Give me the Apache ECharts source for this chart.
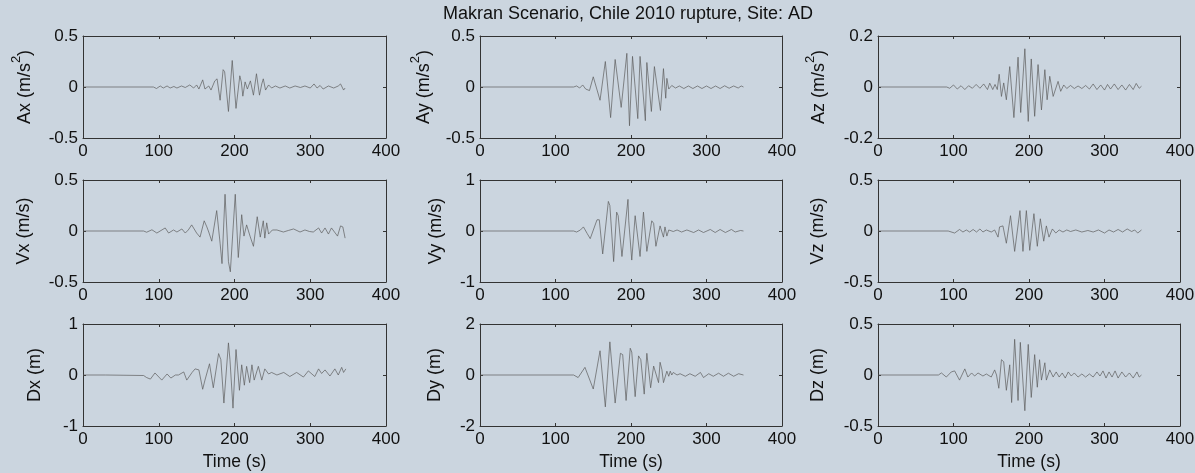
<!DOCTYPE html>
<html>
<head>
<meta charset="utf-8">
<script src="https://cdn.jsdelivr.net/npm/echarts@6/dist/echarts.min.js"></script>
<style>
  html, body { margin: 0; padding: 0; background: #cbd5df; }
  #chart { width: 1195px; height: 473px; }
</style>
</head>
<body>
<div id="chart"></div>
<script>
// Three-component ground motion at site AD: acceleration, velocity, displacement.
// Each trace is a list of [time (s), value] samples.
const ax = [[0,0],[93,0],[97,-0.015],[102,0.01],[106,-0.01],[111,0.01],[115,-0.01],[120,0.005],[124,-0.01],[130,0.01],[135,-0.005],[141,0.02],[146,-0.01],[150,0.02],[153,-0.02],[158,0.07],[161,-0.02],[166,0.01],[169,-0.03],[174,0.06],[177,0.08],[181,-0.13],[185,0.17],[187,0.15],[192,-0.24],[197,0.26],[202,-0.21],[207,0.11],[209,0.05],[211,-0.09],[214,0.05],[217,-0.02],[221,0.06],[225,-0.08],[229,0.13],[233,-0.08],[236,0.03],[238,0.08],[241,-0.03],[245,0.02],[249,-0.01],[254,0.01],[260,-0.01],[267,0.01],[273,-0.01],[280,0.01],[287,-0.005],[293,0.01],[300,-0.01],[305,0.03],[309,-0.01],[313,0.015],[317,-0.02],[324,0.01],[331,-0.01],[337,0.01],[340,0.03],[344,-0.03],[346,-0.01]];
const ay = [[0,0],[124,0],[128,0.01],[132,-0.01],[136,0.02],[140,-0.02],[145,-0.035],[150,0.1],[159,-0.13],[166,0.25],[173,-0.3],[179,0.27],[187,-0.2],[194.5,0.33],[198,-0.38],[202,0.3],[209,-0.31],[212,0.3],[219,-0.33],[221,0.24],[227,-0.24],[231,0.2],[239,-0.23],[243,0.18],[246,-0.11],[247.5,0.085],[250,-0.02],[254,0.015],[259,-0.01],[264,0.01],[270,-0.015],[276,0.01],[282,-0.015],[288,0.01],[294,-0.015],[300,0.01],[306,-0.015],[312,0.01],[318,-0.015],[324,0.012],[330,-0.012],[336,0.01],[342,-0.01],[346,0.01],[349,0]];
const az = [[0,0],[91,0],[95,-0.005],[100,0.008],[105,-0.008],[110,0.005],[115,-0.01],[120,0.005],[125,-0.005],[130,0.01],[135,-0.005],[140,0.012],[145,-0.01],[148,0.015],[152,-0.01],[155,0.01],[158,-0.01],[160.5,0.05],[163.5,-0.037],[166.5,0.016],[170,-0.05],[174.5,0.08],[180,-0.12],[185.5,0.117],[189,-0.1],[194.5,0.15],[199,-0.135],[203,0.11],[207.5,-0.115],[212,0.088],[216.5,-0.09],[221,0.068],[224,-0.05],[227.5,0.042],[232,-0.037],[238.5,0.022],[242,-0.017],[246,0.008],[250,-0.006],[255,0.006],[260,-0.006],[265,0.004],[270,-0.006],[275,0.006],[280,-0.008],[285,0.012],[290,-0.01],[295,0.008],[300,-0.012],[304,0.01],[308,-0.008],[313,0.012],[318,-0.01],[323,0.008],[328,-0.012],[333,0.01],[338,-0.01],[342,0.014],[346,-0.005],[349,0.003]];
const vx = [[0,0],[80,0],[84,-0.012],[91,0.012],[97.5,-0.02],[103,0.005],[108.5,0.03],[113,-0.02],[119.5,0.01],[124,-0.01],[130.5,0.02],[135,-0.02],[139,0.01],[143.5,0.06],[150,-0.02],[154.5,-0.06],[160,0.1],[163.5,0.04],[166,-0.01],[170,-0.1],[176.5,0.2],[181,-0.12],[183.5,-0.32],[187.5,0.36],[192,-0.3],[194.5,-0.4],[201,0.36],[205,-0.26],[209.5,0.16],[212.5,-0.05],[216,0.06],[220.5,-0.05],[225,-0.15],[230,0.14],[234,-0.06],[238,0.1],[240,-0.07],[242.5,0.08],[245,-0.03],[250,0.01],[256,0.01],[264.5,-0.01],[271,0.005],[278,0.02],[286.5,-0.01],[293,0.01],[299,-0.005],[304,-0.01],[311,0.03],[315,-0.02],[319.5,0.03],[324,-0.03],[328,0.03],[332,-0.01],[336,-0.05],[340,0.05],[343,0.04],[346,-0.07]];
const vy = [[0,0],[124,0],[128,-0.02],[133,0.02],[137,0.08],[142,-0.05],[146,-0.15],[148,-0.12],[155,0.22],[158,0.22],[162.5,-0.45],[164,-0.48],[170,0.58],[172,0.5],[177,-0.6],[181,0.37],[183,0.3],[188,-0.5],[196,0.62],[197,0.2],[201,-0.57],[205.5,0.3],[207.5,0.3],[212,-0.5],[216.5,0.37],[221,-0.4],[227.5,0.2],[230,0.15],[233,-0.3],[238.5,0.1],[243,-0.12],[245,0.08],[247.5,-0.1],[250,0.02],[252,0.03],[256,-0.01],[261,0.02],[267,-0.02],[274,0.02],[283,-0.03],[289.5,0.02],[296,-0.03],[305,0.03],[311.5,-0.03],[318,0.03],[325,-0.03],[333,0.03],[338,-0.02],[345,0.01],[349,0]];
const vz = [[0,0],[93,0],[95,0.01],[101.5,-0.02],[108,0.015],[112.5,-0.01],[117,0.01],[121.5,-0.01],[126,0.015],[130.5,-0.01],[135,0.02],[139,-0.01],[143.5,0.01],[150,-0.01],[154.5,0.01],[159,-0.06],[161,0.04],[165.5,0.05],[170,-0.12],[175.5,0.15],[181,-0.2],[188,0.2],[192,-0.2],[196.5,0.2],[201,-0.19],[206.5,0.17],[211,-0.15],[215,0.12],[219.5,-0.1],[223,0.05],[226.5,-0.06],[231,0.02],[235.5,-0.02],[240,0.01],[245,-0.01],[250,0.01],[255,-0.005],[262,0.01],[270,-0.01],[278,0.005],[285,-0.01],[292,0.01],[300,-0.02],[306,0.01],[312,-0.01],[318,0.015],[324,-0.01],[330,0.02],[336,-0.005],[340,0.01],[344,-0.02],[349,0.01]];
const dx = [[0,0],[30,0],[31,-0.01],[80,-0.01],[84,-0.05],[89,-0.08],[95,0.04],[104,-0.1],[111,0.02],[116,-0.06],[122,0],[126,0],[133,0.06],[137,-0.1],[144,0.05],[148,0.12],[153,0.1],[158,-0.28],[161,-0.1],[167,0.22],[172,-0.25],[179,0.42],[182,0.3],[186,-0.55],[192,0.63],[194,0.3],[198,-0.65],[202,0.5],[206.5,-0.3],[209.5,0.2],[213,-0.2],[216,0.17],[220,-0.15],[223,0.2],[226,-0.1],[231.5,0.17],[236,-0.1],[240,0.12],[245,0.02],[249,0.05],[256,0],[265,0.05],[273,-0.03],[282,0.05],[291,-0.04],[297.5,0.08],[306,-0.03],[311,0.12],[315,0.03],[319.5,0.1],[326,-0.02],[332.5,0.12],[337,0],[341.5,0.15],[344,0.05],[347,0.12]];
const dy = [[0,0],[124,0],[130,-0.1],[139,0.3],[150,-0.55],[152.5,-0.5],[159,0.95],[161,0.9],[166,-1.25],[172,1.3],[179,-1.1],[186,0.85],[189,0.8],[193.5,-1.0],[199,1.05],[201,0.9],[205.5,-0.85],[210,0.75],[213,0.6],[217.5,-0.75],[221,0.85],[226,-0.5],[230,0.35],[232,0.3],[236.5,-0.3],[238.5,0.5],[241,0.2],[243,-0.3],[247.5,0.15],[250,-0.05],[252,0.15],[254,0],[256,0.1],[261,0],[265,0.05],[272,-0.05],[278,0.05],[285,-0.05],[292,0.1],[296,-0.1],[303,0.05],[309,-0.05],[316,0.07],[322.5,-0.05],[329,0.07],[336,-0.05],[342.5,0.05],[349,0]];
const dz = [[0,0],[80,0],[84,0.02],[90.5,-0.02],[97,0.03],[101.5,0.04],[108,-0.05],[115,0.06],[119,-0.02],[124,0.02],[128,-0.01],[132.5,0.02],[139,-0.01],[143.5,0.01],[150,-0.02],[154.5,0.05],[157,0],[160,-0.13],[163.5,0.15],[166.5,0.13],[170,-0.15],[174.5,0.1],[177,-0.27],[181,0.35],[185.5,-0.25],[188.5,0.32],[194.5,-0.35],[199,0.3],[203,-0.22],[207.5,0.2],[211,-0.12],[214,0.15],[216.5,-0.05],[221,0.12],[223,-0.05],[227.5,0.05],[232,-0.02],[236,0.03],[240,-0.02],[244,0.02],[248,-0.03],[252,0.03],[256,-0.01],[260,0.02],[265,-0.02],[270,0.01],[275,-0.02],[280,0.01],[285,-0.02],[290,0.03],[294,-0.01],[298,0.04],[302,-0.03],[306,0.03],[310,-0.02],[314,0.04],[318,-0.03],[323,0.03],[328,-0.02],[333,0.02],[338,-0.03],[343,0.03],[346,-0.02],[349,0]];

const traces = [ax, ay, az, vx, vy, vz, dx, dy, dz];
// Axis names as rich text: {m|...} normal run, {sup|...} superscript
const yNames = ['{m|Ax (m/s}{sup|2}{m|)}', '{m|Ay (m/s}{sup|2}{m|)}', '{m|Az (m/s}{sup|2}{m|)}',
                '{m|Vx (m/s)}', '{m|Vy (m/s)}', '{m|Vz (m/s)}',
                '{m|Dx (m)}', '{m|Dy (m)}', '{m|Dz (m)}'];
const yLimits = [0.5, 0.5, 0.2, 0.5, 1, 0.5, 1, 2, 0.5];
const xTicks = [0, 100, 200, 300, 400];
const titleText = 'Makran Scenario, Chile 2010 rupture, Site: AD';
const xName = 'Time (s)';

// Subplot layout (pixels)
const colLeft = [83, 480, 878];
const colWidth = [303, 302, 302];
const rowTop = [36, 180, 324];
const rowHeight = 102;
const yNameGap = [49, 47, 50, 50, 35, 51, 39, 36, 51];

const FONT = '"Liberation Sans", Arial, Helvetica, sans-serif';
const INK = '#111';
const BOX = '#333';

const chart = echarts.init(document.getElementById('chart'));

const nameRich = {
  m: { color: INK, fontSize: 18, fontFamily: FONT, lineHeight: 18, verticalAlign: 'bottom' },
  sup: { color: INK, fontSize: 13, fontFamily: FONT, lineHeight: 24, verticalAlign: 'top' }
};

const grids = [], xAxes = [], yAxes = [], series = [];
traces.forEach((data, i) => {
  const r = Math.floor(i / 3), c = i % 3;
  grids.push({
    left: colLeft[c], top: rowTop[r], width: colWidth[c], height: rowHeight,
    containLabel: false, outerBoundsMode: 'none'
  });
  const line = { show: true, onZero: false, lineStyle: { color: BOX, width: 1 } };
  const tick = { show: true, inside: true, length: 3, lineStyle: { color: BOX, width: 1 } };
  const label = { show: true, color: INK, fontSize: 17, fontFamily: FONT, margin: 5 };
  const xBase = {
    type: 'value', gridIndex: i,
    min: xTicks[0], max: xTicks[xTicks.length - 1], interval: xTicks[1] - xTicks[0],
    axisLine: line, axisTick: tick, splitLine: { show: false }
  };
  xAxes.push(Object.assign({}, xBase, {
    position: 'bottom', axisLabel: label,
    name: r === 2 ? xName : '', nameLocation: 'middle', nameGap: 27,
    nameTextStyle: { color: INK, fontSize: 17.5, fontFamily: FONT }
  }));
  xAxes.push(Object.assign({}, xBase, { position: 'top', axisLabel: { show: false } }));
  const yBase = {
    type: 'value', gridIndex: i,
    min: -yLimits[i], max: yLimits[i], interval: yLimits[i],
    axisLine: line, axisTick: tick, splitLine: { show: false }
  };
  yAxes.push(Object.assign({}, yBase, {
    position: 'left', axisLabel: label,
    name: yNames[i], nameLocation: 'middle', nameRotate: 90, nameGap: yNameGap[i],
    nameTextStyle: { color: INK, fontSize: 18, fontFamily: FONT, rich: nameRich }
  }));
  yAxes.push(Object.assign({}, yBase, { position: 'right', axisLabel: { show: false } }));
  series.push({
    type: 'line', xAxisIndex: 2 * i, yAxisIndex: 2 * i,
    data: data, showSymbol: false, symbol: 'none', silent: true,
    lineStyle: { color: '#5c5c5c', width: 0.7 }
  });
});

chart.setOption({
  animation: false,
  backgroundColor: '#cbd5df',
  graphic: [{
    type: 'text', x: 628, y: 14, silent: true,
    style: { text: titleText, fill: INK, fontSize: 18, fontFamily: FONT, align: 'center', verticalAlign: 'middle' }
  }],
  grid: grids,
  xAxis: xAxes,
  yAxis: yAxes,
  series: series
});
</script>
</body>
</html>
